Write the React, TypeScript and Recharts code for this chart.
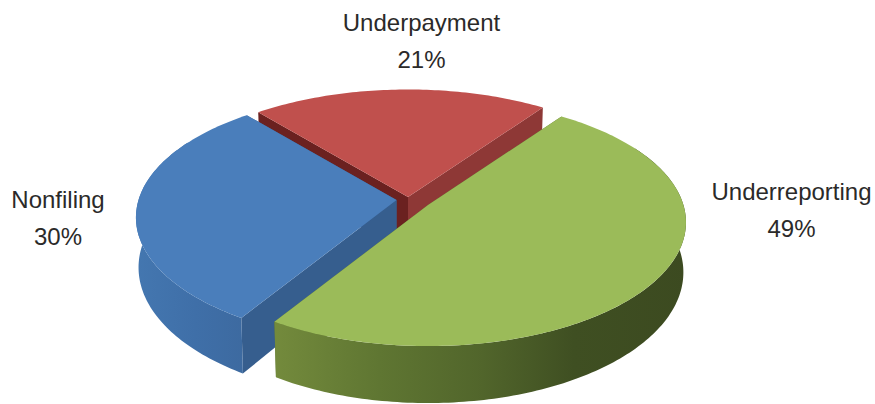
import { PieChart, Pie } from 'recharts'

// Share of the gap by component, in percent. Listed counter-clockwise from the back right.
const components = ['Underpayment', 'Nonfiling', 'Underreporting']
const shares = [21, 30, 49]

const WIDTH = 875
const HEIGHT = 404
const FIRST_ANGLE = 54.4

// Tilted disc: vertical squash, perspective strength, wall height
const SQUASH = 0.475
const PERSPECTIVE = 0.14
const WALL = 49
const WALL_BASE_SCALE = 0.99

const sliceStyles: Record<string, any> = {
  Underpayment: {
    dx: -2, dy: -5, scale: 1,
    top: '#c0504d',
    startFace: '#8e3836',
    endFace: '#6b2120',
    wall: [['0%', '#8e3836'], ['100%', '#8e3836']],
    wallX: [250, 550],
  },
  Nonfiling: {
    dx: -13.5, dy: -2, scale: 1,
    top: '#4a7ebb',
    startFace: '#3a6496',
    endFace: '#365e8e',
    wall: [['0%', '#4477b0'], ['55%', '#3f6fa8'], ['100%', '#3d6aa0']],
    wallX: [135, 245],
  },
  Underreporting: {
    dx: 18, dy: 3, scale: 0.99,
    top: '#9bbb59',
    startFace: '#5a6f30',
    endFace: '#5a6f30',
    wall: [['0%', '#738a3c'], ['25%', '#5f7632'], ['50%', '#51652b'], ['72%', '#3f4f22'], ['100%', '#3c4a20']],
    wallX: [276, 690],
  },
}

const labelLayout: Record<string, { x: number; y: number }> = {
  Underpayment: { x: 421.5, y: 31 },
  Nonfiling: { x: 58, y: 208 },
  Underreporting: { x: 791.5, y: 200 },
}

const data = components.map((name, i) => ({ name, value: shares[i] }))

function project(cx: number, cy: number, r: number, deg: number) {
  const rad = (deg * Math.PI) / 180
  const u = Math.cos(rad)
  const v = -Math.sin(rad)
  const f = 1 / (1 - PERSPECTIVE * v)
  return { x: cx + r * u * f, y: cy + r * SQUASH * v * f, f }
}

// Same point dropped down to the bottom edge of the disc
function base(cx: number, p: { x: number; y: number; f: number }) {
  return { x: cx + (p.x - cx) * WALL_BASE_SCALE, y: p.y + WALL * p.f }
}

function toPath(pts: { x: number; y: number }[]) {
  return 'M' + pts.map(p => `${p.x.toFixed(2)},${p.y.toFixed(2)}`).join('L') + 'Z'
}

function arcPoints(cx: number, cy: number, r: number, from: number, to: number) {
  const steps = Math.max(2, Math.ceil(Math.abs(to - from)))
  const pts = []
  for (let i = 0; i <= steps; i++) {
    pts.push(project(cx, cy, r, from + ((to - from) * i) / steps))
  }
  return pts
}

function Slice3D(props: any) {
  const { cx, cy, outerRadius, startAngle, endAngle, payload } = props
  const style = sliceStyles[payload.name]
  const x = cx + style.dx
  const y = cy + style.dy
  const r = outerRadius * style.scale
  const centre = { x, y, f: 1 }
  const gradientId = `wall-${payload.name}`

  const face = (deg: number) => {
    const edge = project(x, y, r, deg)
    const low = base(x, edge)
    return toPath([centre, edge, low, { x, y: y + WALL }])
  }

  // The rim shows on the front half, plus a little past each side so it stays tangent
  const rimFrom = Math.max(startAngle, 150)
  const rimTo = Math.min(endAngle, 390)
  let rim = null
  if (rimTo > rimFrom) {
    const upper = arcPoints(x, y, r, rimFrom, rimTo)
    const lower = upper.map(p => base(x, p)).reverse()
    rim = <path d={toPath([...upper, ...lower])} fill={`url(#${gradientId})`} />
  }

  return (
    <g>
      <defs>
        <linearGradient id={gradientId} gradientUnits="userSpaceOnUse" x1={style.wallX[0]} x2={style.wallX[1]} y1={0} y2={0}>
          {style.wall.map(([offset, color]: string[]) => (
            <stop key={offset} offset={offset} stopColor={color} />
          ))}
        </linearGradient>
      </defs>
      <path d={face(startAngle)} fill={style.startFace} />
      <path d={face(endAngle)} fill={style.endFace} />
      {rim}
      <path d={toPath([centre, ...arcPoints(x, y, r, startAngle, endAngle)])} fill={style.top} />
    </g>
  )
}

function SliceLabel(props: any) {
  const { payload, value } = props
  const pos = labelLayout[payload.name]
  return (
    <text textAnchor="middle" fontFamily="Liberation Sans, Arial, sans-serif" fontSize={24} fill="#2b2a29">
      <tspan x={pos.x} y={pos.y}>{payload.name}</tspan>
      <tspan x={pos.x} y={pos.y + 37}>{value}%</tspan>
    </text>
  )
}

export default function App() {
  return (
    <div style={{ position: 'absolute', left: 0, top: 0, width: WIDTH, height: HEIGHT, overflow: 'hidden' }}>
      <PieChart width={WIDTH} height={HEIGHT} margin={{ top: 0, right: 0, bottom: 0, left: 0 }}>
        <Pie
          data={data}
          dataKey="value"
          nameKey="name"
          cx={410}
          cy={202}
          innerRadius={0}
          outerRadius={258}
          startAngle={FIRST_ANGLE}
          endAngle={FIRST_ANGLE + 360}
          paddingAngle={0}
          shape={Slice3D}
          label={SliceLabel}
          labelLine={false}
          rootTabIndex={-1}
          isAnimationActive={false}
        />
      </PieChart>
    </div>
  )
}
